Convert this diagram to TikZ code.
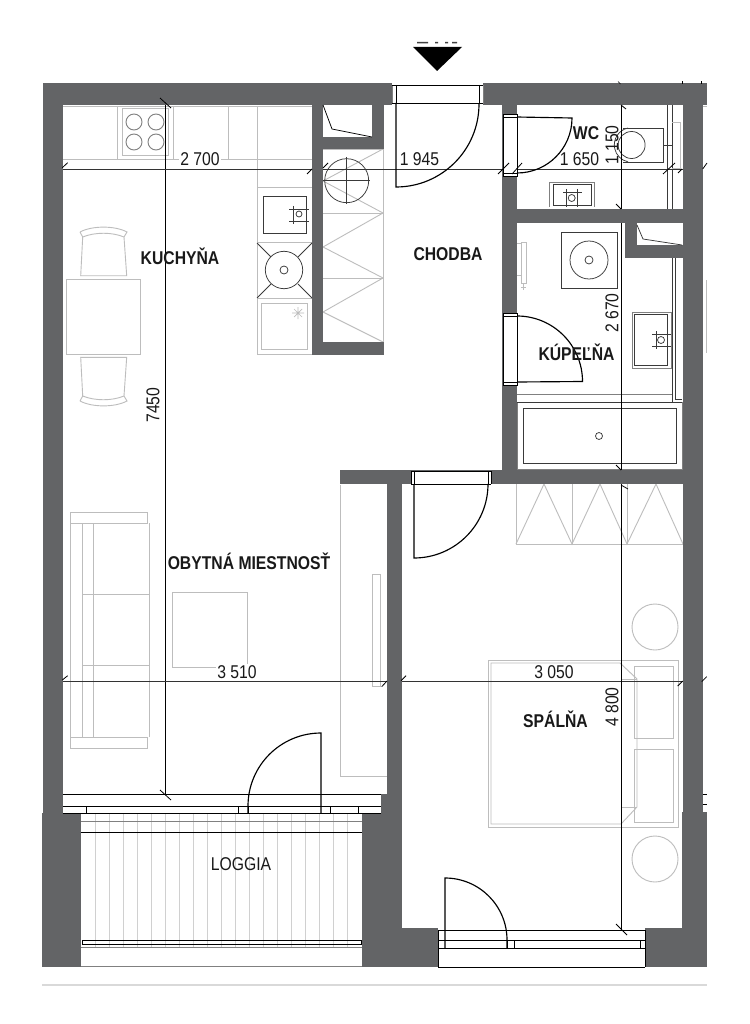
\documentclass[tikz,border=0pt]{standalone}
\usepackage{fontspec}
\setmainfont[FakeStretch=0.85]{Liberation Sans}
\definecolor{wallc}{HTML}{636466}
\definecolor{furnc}{HTML}{BDBDBD}
\definecolor{darkc}{HTML}{3A3A3A}
\definecolor{dimc}{HTML}{333333}
\tikzset{
  wall/.style={fill=wallc,draw=none},
  furn/.style={draw=furnc,line width=0.9pt},
  furnd/.style={draw=darkc,line width=0.75pt},
  blk/.style={draw=black,line width=1.15pt},
  blkt/.style={draw=black,line width=0.9pt},
  opening/.style={fill=white,draw=none},
  dimline/.style={draw=dimc,line width=0.75pt},
  vdim/.style={draw=black,line width=0.9pt},
  tick/.style={draw=black,line width=0.8pt},
  roomlabel/.style={font=\fontsize{18.5}{20}\selectfont\bfseries,inner sep=0pt,text=black!90},
  plainlabel/.style={font=\fontsize{18.5}{20}\selectfont,inner sep=0pt,text=black!90},
  dimlabel/.style={font=\fontsize{18.5}{20}\selectfont,inner sep=1pt,text=black!90},
  dimfill/.style={dimlabel,fill=white},
}
\begin{document}
\begin{tikzpicture}[x=1pt,y=-1pt]
\useasboundingbox (0,0) rectangle (749,1024);
\fill[white] (0,0) rectangle (749,1024);

% ---- kitchen furniture
\draw[furn] (63,106) -- (312,106);
\draw[furn] (63,159) -- (257,159);
\draw[furn] (117,106) -- (117,159) (173,106) -- (173,159) (228,106) -- (228,159);
\draw[furn] (122,108) rectangle (168,155);
\foreach \cx/\cy in {134/122,156/122,134/142,156/142}
  \draw[furn,draw=gray] (\cx,\cy) circle (8);
\draw[furn] (257,106) -- (257,354) -- (312,354);
\draw[furn] (257,159) -- (312,159) (257,187) -- (312,187) (257,242) -- (312,242) (257,298) -- (312,298);
% sink
\draw[furnd] (263,196) rectangle (306,233);
\draw[furnd] (299,214) circle (3);
\draw[furnd] (293,206) -- (293,224) (289,209) -- (309,209) (289,221) -- (309,221);
% stove
\draw[furnd] (284,270) circle (18.7) (284,270) circle (4);
\draw[furnd] (257,243) -- (271,257) (312,243) -- (298,257) (257,298) -- (271,284) (312,298) -- (298,284);
% oven
\draw[furn] (261,303) rectangle (307,349);
\draw[furn,line width=0.7pt] (292,313) -- (304,313) (298,307) -- (298,319) (294,309) -- (302,317) (302,309) -- (294,317);

% ---- tall closet
\draw[furn] (383,149) -- (383,342) (323,149) -- (383,149) (323,213) -- (383,213) (323,278) -- (383,278);
\draw[furn] (383,149) -- (323,181) -- (383,213) -- (323,247) -- (383,278) -- (323,312) -- (383,342);
\draw[furnd] (346.7,180.7) circle (22);
\draw[furnd] (323,180.7) -- (370,180.7) (346.7,157) -- (346.7,204);

% ---- table and chairs
\draw[furn] (66,279) rectangle (140,354);
\draw[furn] (80.7,275.7) -- (82.7,237) .. controls (95,232) and (112,232) .. (124,237) -- (126.7,275.7) -- cycle;
\draw[furn] (80,232) .. controls (92,225.5) and (115,225.5) .. (127,232) -- (124,237) (80,232) -- (82.7,237);
\draw[furn] (80.7,357.3) -- (82.7,396) .. controls (95,401) and (112,401) .. (124,396) -- (126.7,357.3) -- cycle;
\draw[furn] (80,401) .. controls (92,407.5) and (115,407.5) .. (127,401) -- (124,396) (80,401) -- (82.7,396);

% ---- sofa and coffee table
\draw[furn] (70.7,512) rectangle (147.7,523);
\draw[furn] (70.7,737) rectangle (147.7,748);
\draw[furn] (70.7,523) -- (70.7,737);
\draw[furn] (82,523) -- (82,737) (93,523) -- (93,737);
\draw[furn] (149,523) -- (149,737);
\draw[furn] (82,594) -- (149,594) (82,665) -- (149,665);
\draw[furn] (172.7,592.7) rectangle (247.7,667);

% ---- living room wardrobe
\draw[furn] (340.7,485) -- (340.7,776) -- (387,776);
\draw[furn] (372,574) rectangle (380,686);

% ---- bedroom furniture
\draw[furn] (516,484) -- (516,544) -- (683,544);
\draw[furn] (572,484) -- (572,544) (627,484) -- (627,544);
\draw[furn] (516,544) -- (544,484) -- (572,544) -- (600,484) -- (627,544) -- (656,484) -- (683,544);
\draw[furn] (655,627) circle (23) (655,859) circle (23);
\draw[furn] (488,660) rectangle (678,827);
\draw[furn] (620,663) -- (491,663) -- (491,824) -- (621,824) -- (637,807) -- (637,679) -- (620,663);
\draw[furn] (621,679) -- (637,679) (621,807) -- (637,807);
\draw[furn] (634,666) rectangle (673,738);
\draw[furn] (634,749) rectangle (673,822);

% ---- bathroom furniture
\draw[furn,draw=gray] (517,402) rectangle (682,469);
\draw[furnd,line width=0.9pt] (523,408) rectangle (676,463);
\draw[furnd] (599,436) circle (3.5);
\draw[furn,draw=gray] (517,394) -- (672,394);
\draw[furnd] (517,402) -- (682,402);
\draw[furnd] (672,258) -- (672,402) (675,258) -- (675,399) -- (682,399);
\draw[furn,draw=gray] (632,312) rectangle (671,368);
\draw[furnd] (634,314) rectangle (667,365);
\draw[furnd] (661,340) circle (3.5);
\draw[furnd] (656,331) -- (656,349) (652,334) -- (671,334) (652,346) -- (671,346);
\draw[furnd] (561,232) rectangle (617,288);
\draw[furnd] (589,260) circle (19) (589,260) circle (4);
\draw[furn] (521,242) rectangle (526,283);
\draw[furn] (517,243) -- (521,243) (517,275) -- (521,275) (523.5,283) -- (523.5,290) (521,287) -- (526,287);

% ---- WC furniture
\draw[furnd] (667,105) -- (667,209) (672,105) -- (672,209);
\draw[furn] (672,122) -- (680,122) -- (680,168) -- (672,168);
\draw[furnd] (623,128) -- (663,128) -- (663,162) -- (623,162);
\draw[furnd] (663,145) -- (672,145);
\draw[furnd] (631.6,145) circle (13.5);
\draw[furnd] (628,128) arc[start angle=-102,end angle=-258,radius=17.3];
\draw[furn,draw=gray] (549,207) -- (549,182) -- (594,182) -- (594,207);
\draw[furnd] (553,205) -- (553,184) -- (591,184) -- (591,205) -- cycle;
\draw[furnd] (571.7,198) circle (3.5);
\draw[furnd] (563,192) -- (582,192) (566,189) -- (566,207) (577,189) -- (577,207);

% ---- loggia
\foreach \xx in {95,109,123,137,151,165,179,193,207,221,235,249,263,277,291,305,319,333,347}
  \draw[draw=furnc,line width=0.5pt,opacity=.7] (\xx,813) -- (\xx,947);
\draw[draw=gray,line width=0.7pt] (81,821) -- (362,821);
\draw[blkt] (81,832) -- (362,832);
\draw[draw=gray,line width=0.8pt] (81,947) -- (362,947);
\draw[blkt] (82,940) rectangle (361,944);
\draw[draw=gray,line width=0.9pt] (81,966) -- (362,966);

% ---- dimension lines
\draw[vdim] (165.7,102) -- (165.7,795);
\draw[dimline] (63,169) -- (312,169);
\draw[dimline] (323,169) -- (502,169);
\draw[dimline] (517,169) -- (683,169);
\draw[dimline] (63,681) -- (387,681);
\draw[dimline] (402,681) -- (683,681);
\draw[vdim,line width=0.75pt] (621.5,105) -- (621.5,209);
\draw[vdim,line width=0.75pt] (621.5,223) -- (621.5,470);
\draw[vdim,line width=0.75pt] (621.5,484) -- (621.5,930);

% ---- walls
\fill[wall] (42.7,83) rectangle (707,105);
\fill[wall] (42.7,83) rectangle (62.7,813);
\fill[wall] (42,813) rectangle (81,967);
\fill[wall] (682.7,83) rectangle (702.7,967);
\fill[wall] (682,812) rectangle (707,967);
\fill[wall] (645,928) rectangle (707,967);
\fill[wall] (362,928) rectangle (438,967);
\fill[wall] (362,813) rectangle (402,967);
\fill[wall] (381,794) rectangle (402,813);
\fill[wall] (387,470) rectangle (402,794);
\fill[wall] (340,470) rectangle (683,484);
\fill[wall] (502,83) rectangle (517,470);
\fill[wall] (517,209) rectangle (683,223);
\fill[wall] (625,223) rectangle (637,258);
\fill[wall] (625,245) rectangle (683,258);
\fill[wall] (312,105) rectangle (323,355);
\fill[wall] (312,342) rectangle (384,355);
\fill[wall] (323,137) rectangle (384,149);
\fill[wall] (372,105) rectangle (384,137);

% closet and shaft hatching
\draw[furnd,draw=black] (323,105) -- (332,129) -- (372,137);
\fill[white] (637,224) rectangle (682.7,245);
\draw[furnd] (637,225) -- (643,239) -- (682,245);

% ---- right side stubs
\draw[draw=furnc,line width=0.8pt] (702.7,106) -- (707,106);
\draw[draw=furnc,line width=0.8pt] (706,280) -- (706,353);
\fill[white] (702.7,794) rectangle (707,812);
\draw[blkt] (702.7,794) -- (707,794) (702.7,804) -- (707,804);

% ---- entrance door
\fill[opening] (392,83) rectangle (483,105);
\draw[furn,draw=gray] (392,85) rectangle (483,103);
\draw[blkt] (392,85) -- (483,85) (392,103) -- (483,103) (396,85) -- (396,103) (479,85) -- (479,103);
\draw[blk] (396,103) -- (396,187) arc[start angle=90,end angle=0,radius=83];

% ---- WC door
\fill[opening] (503,114) rectangle (517,176);
\draw[blkt] (503,114) rectangle (517,176);
\draw[blkt] (503,117) -- (517,117) (503,173) -- (517,173);
\draw[blk] (517,173) arc[start angle=90,end angle=0,radius=55] -- (517,117);

% ---- bathroom door
\fill[opening] (503,313) rectangle (517,385);
\draw[blkt] (503,313) rectangle (517,385);
\draw[blkt] (503,316) -- (517,316) (503,382) -- (517,382);
\draw[blk] (517,316) arc[start angle=-90,end angle=0,radius=65.5] -- (517,382);

% ---- bedroom inner door
\fill[opening] (411,471) rectangle (491,484);
\draw[blkt] (411,471) -- (491,471) (411,484) -- (491,484) (411,471) -- (411,484) (414,471) -- (414,484) (488,471) -- (488,484) (491,471) -- (491,484);
\draw[blk] (414,484) -- (414,558) arc[start angle=90,end angle=0,radius=74];

% ---- living room window and door
\fill[opening] (63,794) rectangle (381,813);
\draw[blkt] (63,794) -- (381,794) (63,806) -- (381,806) (63,813) -- (381,813);
\draw[blkt] (86,806) -- (86,813) (238,806) -- (238,813) (248,806) -- (248,813) (330,806) -- (330,813) (358,806) -- (358,813);
\draw[blk] (321,813) -- (321,733) arc[start angle=-90,end angle=-180,radius=73] -- (248,813);

% ---- bedroom window and door
\fill[opening] (438,929) rectangle (645,967);
\draw[blkt] (438,930) -- (645,930) (438,940) -- (645,940) (438,948) -- (645,948);
\draw[blkt,line width=0.8pt] (438,967) -- (645,967) (438,930) -- (438,967) (645,930) -- (645,967);
\draw[blkt] (507,940) -- (507,948) (514,940) -- (514,948) (640,940) -- (640,948);
\draw[blk] (445,948) -- (445,878) arc[start angle=-90,end angle=0,radius=62] -- (507,948);

% ---- footer rule
\draw[draw=black!15,line width=1.2pt] (42,985) -- (707,985);

% ---- view arrow with cut-off caption
\fill[black] (413,47) -- (462,47) -- (437,71) -- cycle;
\fill[black!75] (417,42) rectangle (428,43.4) (435,42) rectangle (438,43.4) (445,42) rectangle (448,43.4) (452,42) rectangle (457,43.4);

% ---- ticks
\draw[tick] (62.3,167.7) -- (67.7,162.7);
\draw[tick] (307,174) -- (312,169);
\draw[tick] (323,168) -- (328,163);
\draw[tick] (498,174) -- (509,163);
\draw[tick] (512,174) -- (522,163);
\draw[tick] (663,174) -- (675,163);
\draw[tick] (678,173) -- (682,169);
\draw[tick] (702.7,169) -- (707,163);
\draw[tick] (160,98) -- (171,108);
\draw[tick] (160,790) -- (171,800);
\draw[tick] (621,105) -- (626,109);
\draw[tick] (616,204) -- (621,209);
\draw[tick] (616,465) -- (621,470);
\draw[tick] (621,485) -- (628,489);
\draw[tick] (616,924) -- (627,935);
\draw[tick] (62.3,680) -- (67.7,675.7);
\draw[tick] (381.7,686.7) -- (387,681);
\draw[tick] (401,680.7) -- (406,675.7);
\draw[tick] (677.7,686) -- (682.7,681);
\draw[tick] (701.7,681.7) -- (706.7,676.7);
\draw[tick,line width=0.6pt] (618,81.5) -- (620.5,84);
\draw[tick,line width=0.6pt] (682.5,81.5) -- (682.5,84);
\draw[tick,line width=0.6pt] (701.5,81.5) -- (701.5,84);

% ---- dimension labels
\node[dimfill] (d2700) at (200,159) {2 700};
\node[dimlabel] (d1945) at (419.5,159) {1 945};
\node[dimlabel] (d1650) at (579.5,159) {1 650};
\node[dimfill] (d3510) at (237,672) {3 510};
\node[dimfill] (d3050) at (554,672) {3 050};
\node[dimlabel,rotate=90] (d7450) at (153,405) {7450};
\node[dimlabel,rotate=90] (d1150) at (612,145) {1 150};
\node[dimlabel,rotate=90] (d2670) at (612,313) {2 670};
\node[dimlabel,rotate=90] (d4800) at (612,707) {4 800};

% ---- room labels
\node[roomlabel] (kuchyna) at (180,256) {KUCHYŇA};
\node[roomlabel] (chodba) at (448,254) {CHODBA};
\node[roomlabel] (wc) at (586,133) {WC};
\node[roomlabel] (kupelna) at (576.5,352) {KÚPEĽŇA};
\node[roomlabel] (obyt) at (249,561) {OBYTNÁ MIESTNOSŤ};
\node[roomlabel] (spalna) at (555.5,719) {SPÁLŇA};
\node[plainlabel] (loggia) at (241,864) {LOGGIA};
\end{tikzpicture}
\end{document}
